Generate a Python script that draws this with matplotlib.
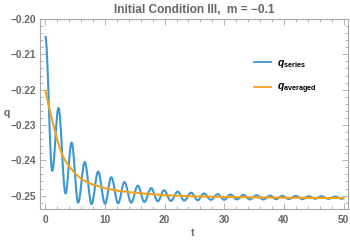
import numpy as np
from matplotlib import pyplot as plt
from matplotlib.path import Path
from matplotlib.patches import PathPatch

# q_series: turning points (t, q)
series_t = [0.0, 1.15, 2.2, 3.38, 4.4, 5.5, 6.6, 7.75, 8.85, 10.0,
            11.05, 12.2, 13.25, 14.4, 15.5, 16.6, 17.75, 18.85, 19.9, 21.05,
            22.2, 23.3, 24.45, 25.55, 26.6, 27.75, 28.9, 30.0, 31.05, 32.15,
            33.2, 34.3, 35.4, 36.55, 37.7, 38.7, 39.75, 40.85, 42.0, 43.1,
            44.2, 45.25, 46.3, 47.45, 48.6, 49.7, 50.0]
series_q = [-0.2050, -0.2430, -0.2252, -0.2494, -0.2350, -0.2520, -0.2405, -0.2524, -0.2432, -0.2523,
            -0.2448, -0.2522, -0.2462, -0.2520, -0.2472, -0.2518, -0.2479, -0.2516, -0.2485, -0.2515,
            -0.2489, -0.2514, -0.2492, -0.2513, -0.2494, -0.2512, -0.2496, -0.2512, -0.2497, -0.2511,
            -0.2498, -0.2511, -0.2499, -0.2511, -0.2500, -0.2510, -0.2501, -0.2510, -0.2501, -0.2510,
            -0.2502, -0.2509, -0.2502, -0.2509, -0.2503, -0.2509, -0.2508]

# q_averaged
avg_t = [0, 0.5, 1.0, 1.5, 2.0, 2.5, 3.0, 3.5, 4.0, 5.0, 6.0, 7.0, 8.0,
         10.0, 12.0, 15.0, 20.0, 25.0, 30.0, 40.0, 50.0]
avg_q = [-0.2203, -0.2240, -0.2278, -0.2311, -0.2342, -0.2370, -0.2391, -0.2405, -0.2417,
         -0.2438, -0.2452, -0.2462, -0.2469, -0.2479, -0.2486, -0.2492, -0.2499,
         -0.2502, -0.2504, -0.2506, -0.2507]

blue = "#3d97d0"
orange = "#f3a21f"
grey_txt = "#666666"
grey_frame = "#a8a8a8"

plt.rcParams['font.family'] = ['Liberation Sans', 'DejaVu Sans']
plt.rcParams['mathtext.fontset'] = 'custom'
plt.rcParams['mathtext.it'] = 'Liberation Sans:italic:bold'
plt.rcParams['mathtext.rm'] = 'Liberation Sans:bold'
plt.rcParams['mathtext.sf'] = 'Liberation Sans:bold'

fig = plt.figure(figsize=(3.5, 2.41), dpi=100)
ax = fig.add_axes([40/350, 1 - 209/241, 308/350, 190/241])

# smooth curve through the turning points, drawn as bezier segments
verts = [(series_t[0], series_q[0])]
codes = [Path.MOVETO]
k = 0.364
for i in range(len(series_t) - 1):
    t0, q0 = series_t[i], series_q[i]
    t1, q1 = series_t[i + 1], series_q[i + 1]
    dt = t1 - t0
    verts += [(t0 + k*dt, q0), (t1 - k*dt, q1), (t1, q1)]
    codes += [Path.CURVE4] * 3
ax.add_patch(PathPatch(Path(verts, codes), facecolor="none", edgecolor=blue,
                       linewidth=1.5, capstyle="round", joinstyle="round", zorder=2))
ax.plot([], [], color=blue, linewidth=1.3, label=r"$q_{\mathsf{series}}$")
ax.plot(avg_t, avg_q, color=orange, linewidth=1.5, zorder=3)
ax.plot([], [], color=orange, linewidth=1.3, label=r"$q_{\mathsf{averaged}}$")

ax.set_xlim(-0.9, 50.75)
ax.set_ylim(-0.2538, -0.2)
ax.set_xticks(range(0, 51, 10))
ax.set_xticks(range(0, 51, 2), minor=True)
ax.set_yticks([-0.25, -0.24, -0.23, -0.22, -0.21, -0.20])
ax.set_yticklabels(["\u22120.25", "\u22120.24", "\u22120.23", "\u22120.22", "\u22120.21", "\u22120.20"])
ax.set_yticks(np.arange(-0.252, -0.1995, 0.002), minor=True)
ax.tick_params(which="both", direction="in", top=True, right=True, color=grey_frame,
               labelcolor=grey_txt, labelsize=7.3, width=0.6)
ax.tick_params(which="major", length=4)
ax.tick_params(which="minor", length=2)
ax.tick_params(axis="x", pad=4)
ax.tick_params(axis="y", pad=3)
for lab in ax.get_xticklabels() + ax.get_yticklabels():
    lab.set_fontweight("bold")
for sp in ax.spines.values():
    sp.set_color(grey_frame)
    sp.set_linewidth(0.8)

ax.set_title("Initial Condition III,  m = \u22120.1", fontsize=8.6, color=grey_txt,
             fontweight="bold", pad=4)
fig.text(4/350, 1 - 113/241, "q", fontsize=7.5, color=grey_txt, fontweight="bold",
         ha="left", va="center")
fig.text(193/350, 1 - 233/241, "t", fontsize=7.5, color=grey_txt, fontweight="bold",
         ha="center", va="center")

ax.legend(loc="upper left", bbox_to_anchor=(0.665, 0.845), frameon=False, fontsize=7.5,
          handlelength=1.6, handletextpad=0.6, labelspacing=1.15)

fig.savefig("out.png", dpi=100)
